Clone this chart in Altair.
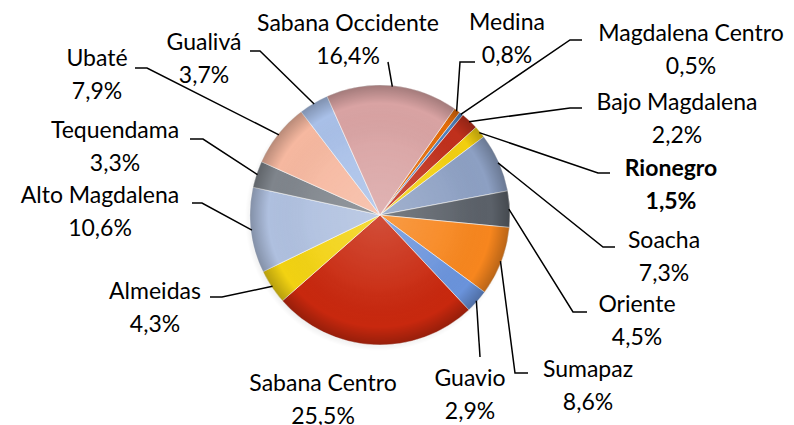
import math
import altair as alt
import pandas as pd

# ---- data (clockwise from the first slice) ----
names = ["Medina", "Magdalena Centro", "Bajo Magdalena", "Rionegro", "Soacha",
         "Oriente", "Sumapaz", "Guavio", "Sabana Centro", "Almeidas",
         "Alto Magdalena", "Tequendama", "Ubaté", "Gualivá", "Sabana Occidente"]
values = [0.8, 0.5, 2.2, 1.5, 7.3, 4.5, 8.6, 2.9, 25.5, 4.3, 10.6, 3.3, 7.9, 3.7, 16.4]

# ---- style ----
colors = ["#E36C0A", "#4F81BD", "#C0301C", "#F2CF10", "#8DA0C3",
          "#5B6169", "#F7861E", "#6A93DB", "#C8280E", "#F2D212",
          "#AFC0DF", "#7F858C", "#F6B8A0", "#A9C0E8", "#D9A3A3"]
bold_labels = ["Rionegro"]

# ---- layout (page pixels) ----
W, H, M = 778, 409, 8
CX, CY, R = 380 - M, 215 - M, 130
START_DEG = 35.0
FS = 23
LINE_GAP = 33
label_x = [507, 691, 677, 671, 664, 637, 588, 470, 323, 155, 100, 115, 97, 204, 348]
label_y = [22, 33, 102, 168, 240, 304, 369, 378, 383, 291, 195, 130, 58, 42, 23]
lead_elbow = [(460, 62), (570, 40), (570, 108), (598, 173), (603, 247), (573, 312),
              (515, 373), (480, 357), None, (222, 297), (202, 203), (203, 139),
              (147, 68), (260, 51), (388, 62)]
lead_end = [(475, 62), (582, 40), (582, 108), (610, 173), (615, 247), (587, 312),
            (528, 373), (480, 357), None, (210, 297), (192, 203), (190, 139),
            (135, 68), (250, 51), (388, 62)]

total = sum(values)
start = math.radians(START_DEG)

pie_df = pd.DataFrame({"name": names, "value": values, "idx": list(range(len(names)))})

# leader lines: from slice edge (mid-angle) to elbow to end
rows = []
cum = 0.0
for i, (n, v) in enumerate(zip(names, values)):
    mid = start + 2 * math.pi * (cum + v / 2) / total
    cum += v
    if lead_end[i] is None:
        continue
    ex, ey = CX + (R - 1) * math.sin(mid), CY - (R - 1) * math.cos(mid)
    pts = [(ex, ey), (lead_elbow[i][0] - M, lead_elbow[i][1] - M), (lead_end[i][0] - M, lead_end[i][1] - M)]
    for k, (px, py) in enumerate(pts):
        rows.append({"name": n, "k": k, "x": px, "y": py})
lead_df = pd.DataFrame(rows)

trows = []
for i, (n, v) in enumerate(zip(names, values)):
    pct = f"{v:.1f}".replace(".", ",") + "%"
    base = label_y[i] - M + 0.36 * FS
    trows.append({"name": n, "t": n, "x": label_x[i] - M, "y": base, "bold": n in bold_labels})
    trows.append({"name": n, "t": pct, "x": label_x[i] - M, "y": base + LINE_GAP, "bold": n in bold_labels})
text_df = pd.DataFrame(trows)

xs = alt.Scale(domain=[0, W], nice=False, zero=False)
ys = alt.Scale(domain=[0, H], nice=False, zero=False, reverse=True)

shadow = alt.Chart(pd.DataFrame({"a": [0]})).mark_arc(
    radius=R + 3, theta=0, theta2=2 * math.pi,
    fill={"gradient": "radial", "stops": [
        {"offset": 0.0, "color": "rgba(0,0,0,0.25)"},
        {"offset": 0.9, "color": "rgba(0,0,0,0.12)"},
        {"offset": 1.0, "color": "rgba(0,0,0,0)"}]}
).encode(x=alt.value(CX - 2), y=alt.value(CY + 3))

pie = alt.Chart(pie_df).mark_arc(radius=R, stroke="rgba(255,255,255,0.55)", strokeWidth=1).encode(
    theta=alt.Theta("value:Q", stack=True,
                    scale=alt.Scale(range=[start, start + 2 * math.pi])),
    color=alt.Color("name:N", scale=alt.Scale(domain=names, range=colors), legend=None),
    order=alt.Order("idx:Q"),
    x=alt.value(CX), y=alt.value(CY),
)

shade = alt.Chart(pd.DataFrame({"a": [0]})).mark_arc(
    radius=R, theta=0, theta2=2 * math.pi,
    fill={"gradient": "radial", "stops": [
        {"offset": 0.0, "color": "rgba(255,255,255,0.18)"},
        {"offset": 0.55, "color": "rgba(255,255,255,0.05)"},
        {"offset": 0.86, "color": "rgba(0,0,0,0.0)"},
        {"offset": 1.0, "color": "rgba(0,0,0,0.25)"}]}
).encode(x=alt.value(CX), y=alt.value(CY))

leads = alt.Chart(lead_df).mark_line(color="black", strokeWidth=1.5).encode(
    x=alt.X("x:Q", scale=xs, axis=None),
    y=alt.Y("y:Q", scale=ys, axis=None),
    detail="name:N",
    order="k:Q",
)

text_norm = alt.Chart(text_df).transform_filter("!datum.bold").mark_text(
    font="Lato", fontSize=FS, align="center", baseline="alphabetic", color="black"
).encode(x=alt.X("x:Q", scale=xs, axis=None), y=alt.Y("y:Q", scale=ys, axis=None), text="t:N")

text_bold = alt.Chart(text_df).transform_filter("datum.bold").mark_text(
    font="Lato", fontSize=FS, fontWeight="bold", align="center", baseline="alphabetic", color="black"
).encode(x=alt.X("x:Q", scale=xs, axis=None), y=alt.Y("y:Q", scale=ys, axis=None), text="t:N")

chart = alt.layer(shadow, pie, shade, leads, text_norm, text_bold).properties(
    width=W, height=H, padding=0
).configure_view(stroke=None)

chart.save("out.html", embed_options={"renderer": "svg", "actions": False})
